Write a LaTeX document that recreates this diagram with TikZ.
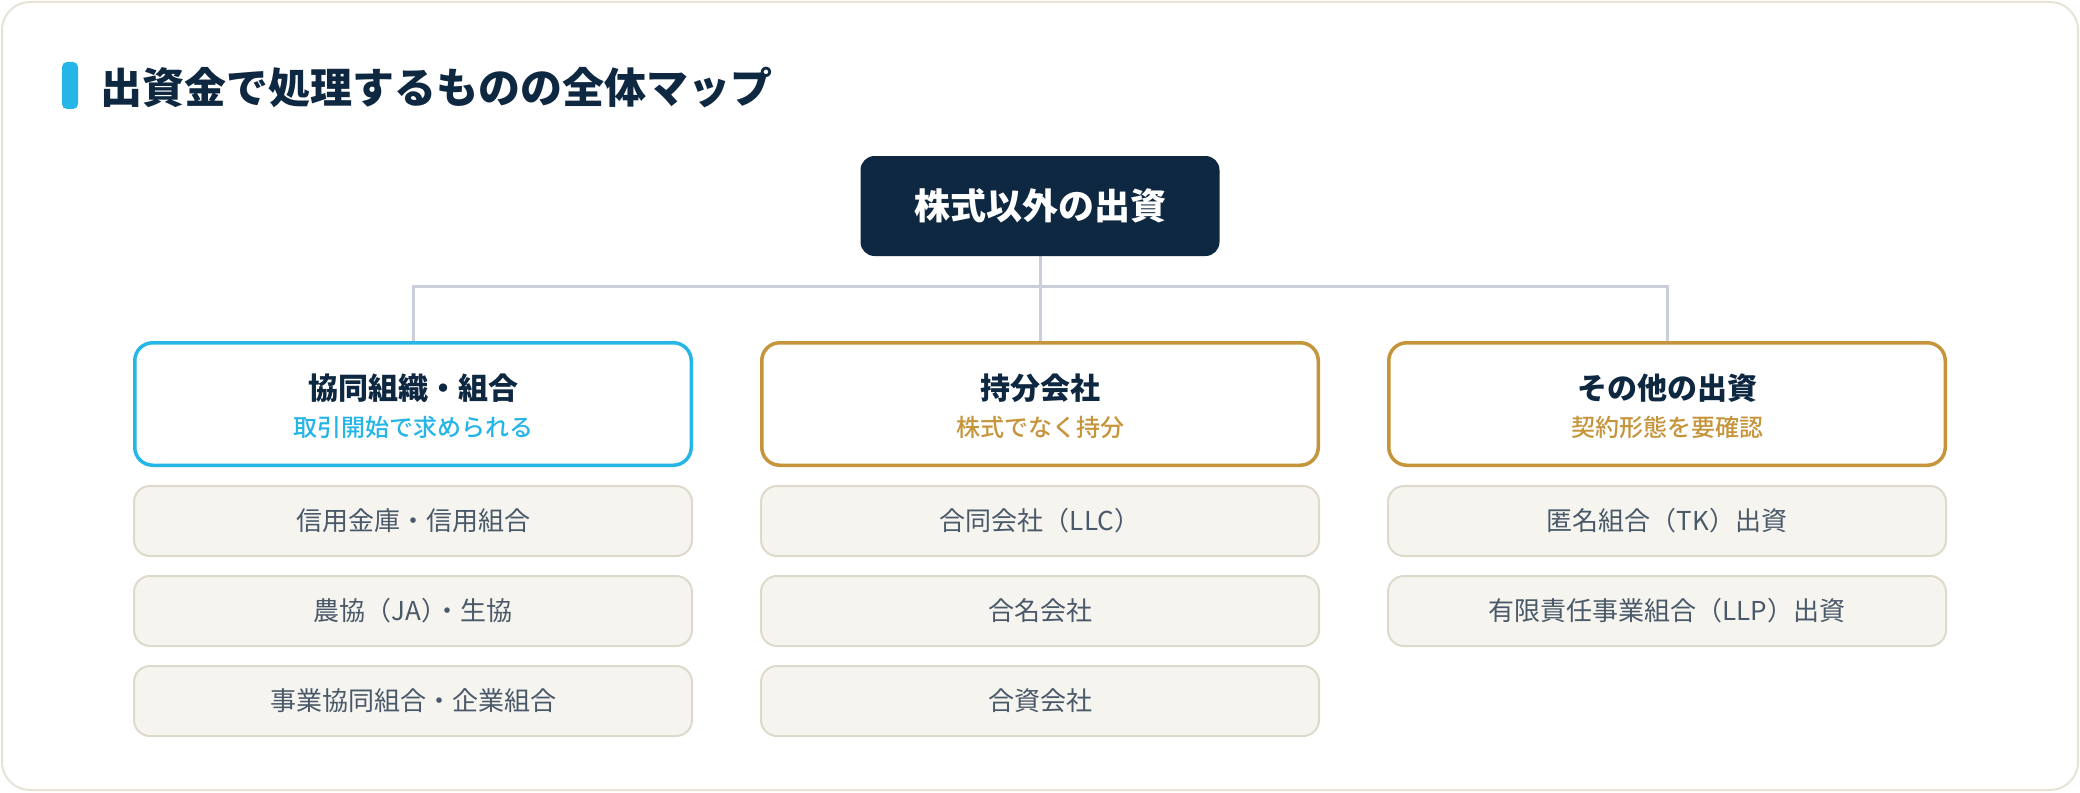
\documentclass[tikz,border=0pt]{standalone}
\usepackage{fontspec}
\setmainfont{Noto Sans CJK JP}
\newfontfamily\medfont{Noto Sans CJK JP Medium}
\usetikzlibrary{backgrounds}
\definecolor{navy}{HTML}{0F2841}
\definecolor{cyanc}{HTML}{25B5E6}
\definecolor{goldc}{HTML}{C6943B}
\definecolor{itemfill}{HTML}{F5F4EF}
\definecolor{itemline}{HTML}{DEDACB}
\definecolor{itemtext}{HTML}{4A5969}
\definecolor{connc}{HTML}{C9CED8}
\definecolor{panelline}{HTML}{E6E3D6}
\begin{document}
\begin{tikzpicture}[x=0.5pt,y=-0.5pt,
  rootbox/.style={fill=navy, rounded corners=7pt, minimum width=179.5pt, minimum height=50pt,
    text=white, font=\bfseries\fontsize{18}{20}\selectfont, inner sep=0pt},
  catbox/.style={draw=#1, line width=1.75pt, fill=white, rounded corners=9pt,
    minimum width=278.25pt, minimum height=61.25pt, inner sep=0pt},
  itembox/.style={draw=itemline, line width=1pt, fill=itemfill, rounded corners=8pt,
    minimum width=279pt, minimum height=35pt, inner sep=0pt, text=itemtext,
    font=\fontsize{13}{15}\selectfont},
  cattitle/.style={text=navy, font=\bfseries\fontsize{15}{17}\selectfont, inner sep=0pt},
  catsub/.style={text=#1, font=\medfont\fontsize{12}{14}\selectfont, inner sep=0pt},
  linkline/.style={draw=connc, line width=1.5pt},
  heading/.style={text=navy, font=\bfseries\fontsize{21}{24}\selectfont, inner sep=0pt, anchor=west}
]
\useasboundingbox (0,0) rectangle (2080,792);

% title
\fill[cyanc, rounded corners=2.5pt] (62,62) rectangle (78,109);
\node[heading] (title) at (100,87) {出資金で処理するものの全体マップ};

% root
\node[rootbox] (root) at (1040,206) {株式以外の出資};

% categories
\node[catbox=cyanc] (c1) at (413,404) {};
\node[cattitle] (c1t) at (413,388) {協同組織・組合};
\node[catsub=cyanc] (c1s) at (413,427) {取引開始で求められる};

\node[catbox=goldc] (c2) at (1040,404) {};
\node[cattitle] (c2t) at (1040,388) {持分会社};
\node[catsub=goldc] (c2s) at (1040,427) {株式でなく持分};

\node[catbox=goldc] (c3) at (1667,404) {};
\node[cattitle] (c3t) at (1667,388) {その他の出資};
\node[catsub=goldc] (c3s) at (1667,427) {契約形態を要確認};

% items
\node[itembox] (i11) at (413,521) {信用金庫・信用組合};
\node[itembox] (i12) at (413,611) {農協（JA）\kern-0.5em・生協};
\node[itembox] (i13) at (413,701) {事業協同組合・企業組合};

\node[itembox] (i21) at (1040,521) {合同会社（LLC）};
\node[itembox] (i22) at (1040,611) {合名会社};
\node[itembox] (i23) at (1040,701) {合資会社};

\node[itembox] (i31) at (1667,521) {匿名組合（TK）出資};
\node[itembox] (i32) at (1667,611) {有限責任事業組合（LLP）出資};

\coordinate (j) at (1040,286);

\begin{scope}[on background layer]
  \draw[panelline, line width=1pt, fill=white, rounded corners=14pt] (2,2) rectangle (2078,790);
  \draw[linkline] (root.south) -- (c2.north);
  \draw[linkline] (c1.north) |- (j) -| (c3.north);
\end{scope}
\end{tikzpicture}
\end{document}
